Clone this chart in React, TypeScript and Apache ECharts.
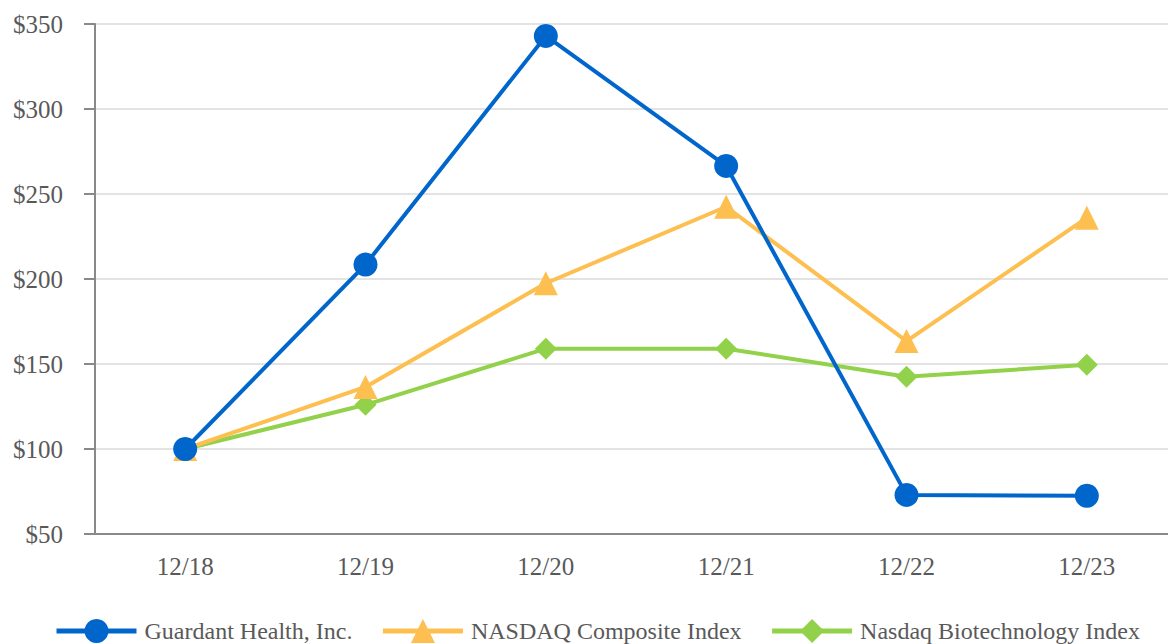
import React, { useEffect, useRef } from "react";
import * as echarts from "echarts";

const categories = ["12/18", "12/19", "12/20", "12/21", "12/22", "12/23"];
const guardant = [100, 208.5, 343, 266.5, 73, 72.5];
const nasdaq = [100, 136.5, 197.5, 242.5, 163.5, 236];
const biotech = [100, 126, 159, 159, 142.5, 149.5];
const yTicks = { min: 50, max: 350, interval: 50 };

const FONT = "Liberation Serif";
const TEXT = "#595959";

export default function App() {
  const ref = useRef<HTMLDivElement>(null);
  useEffect(() => {
    document.body.style.margin = "0";
    document.body.style.overflow = "hidden";
    const chart = echarts.init(ref.current!, undefined, { renderer: "svg" });
    chart.setOption({
      animation: false,
      textStyle: { fontFamily: FONT },
      grid: { left: 95, right: 3, top: 24, bottom: 110, containLabel: false },
      legend: {
        left: 54,
        top: 619,
        padding: 0,
        itemWidth: 80,
        itemHeight: 30,
        itemGap: 28,
        lineStyle: { width: 5 },
        textStyle: { fontFamily: FONT, fontSize: 24, color: TEXT, padding: [0, 0, 0, 3] },
        data: ["Guardant Health, Inc.", "NASDAQ Composite Index", "Nasdaq Biotechnology Index"],
      },
      xAxis: {
        type: "category",
        data: categories,
        boundaryGap: true,
        axisLine: { lineStyle: { color: "#898989", width: 2 } },
        axisTick: { alignWithLabel: true, length: 10, lineStyle: { color: "#898989", width: 2 } },
        axisLabel: { color: TEXT, fontSize: 25, fontFamily: FONT, margin: 20 },
        splitLine: { show: false },
      },
      yAxis: {
        type: "value",
        min: yTicks.min,
        max: yTicks.max,
        interval: yTicks.interval,
        axisLine: { show: true, lineStyle: { color: "#898989", width: 2 } },
        axisTick: { show: true, length: 11, lineStyle: { color: "#898989", width: 2 } },
        axisLabel: { color: TEXT, fontSize: 25, fontFamily: FONT, margin: 32, formatter: (v: number) => "$" + v },
        splitLine: { lineStyle: { color: "#e3e3e3", width: 2 } },
      },
      series: [
        {
          name: "Guardant Health, Inc.",
          type: "line",
          data: guardant,
          z: 4,
          symbol: "circle",
          symbolSize: 24,
          lineStyle: { color: "#0066CC", width: 4 },
          itemStyle: { color: "#0066CC" },
        },
        {
          name: "NASDAQ Composite Index",
          type: "line",
          data: nasdaq,
          z: 3,
          symbol: "triangle",
          symbolSize: 24,
          lineStyle: { color: "#FCBF50", width: 4 },
          itemStyle: { color: "#FCBF50" },
        },
        {
          name: "Nasdaq Biotechnology Index",
          type: "line",
          data: biotech,
          z: 2,
          symbol: "diamond",
          symbolSize: 22,
          lineStyle: { color: "#92D14A", width: 4 },
          itemStyle: { color: "#92D14A" },
        },
      ],
    });
    return () => chart.dispose();
  }, []);
  return (
    <div style={{ position: "absolute", left: 0, top: 0, width: 1168, height: 644, overflow: "hidden" }}>
      <div ref={ref} style={{ width: 1180, height: 644 }} />
    </div>
  );
}
